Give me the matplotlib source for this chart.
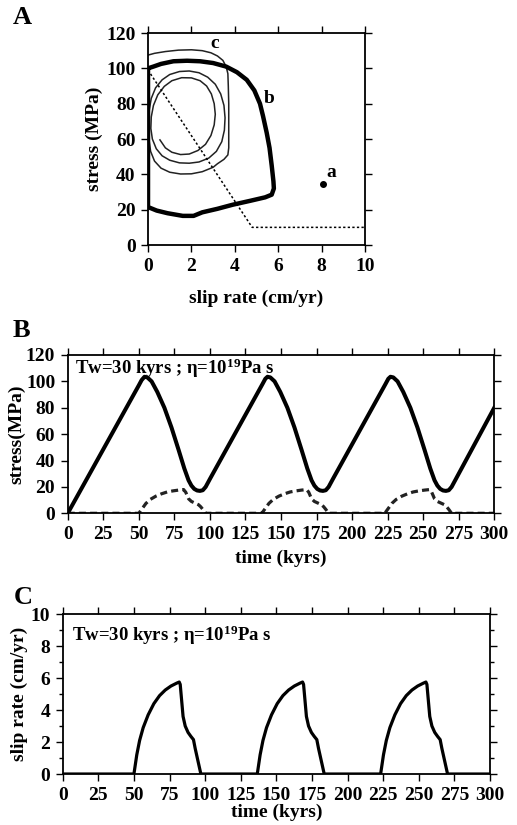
"""
Stress / slip-rate cycles: phase portrait (A), stress history (B), slip-rate history (C).
"""
import matplotlib
matplotlib.use("Agg")
import matplotlib.pyplot as plt
from matplotlib.ticker import MultipleLocator

plt.rcParams.update({
    "font.family": ["Liberation Serif", "DejaVu Serif"],
    "font.weight": "bold",
    "axes.labelweight": "bold",
    "font.size": 14,
    "mathtext.fontset": "custom",
    "mathtext.rm": "Liberation Serif:bold",
    "mathtext.bf": "Liberation Serif:bold",
    "mathtext.it": "Liberation Serif:bold",
})

# ---- panel A: phase portrait (slip rate cm/yr, stress MPa)
b_rate = [0.0, 0.0, 0.4, 0.9, 1.6, 2.1, 2.5, 3.2, 3.9, 4.7, 5.4, 5.7, 5.8, 5.78, 5.7,
          5.6, 5.47, 5.3, 5.16, 4.9, 4.55, 4.1, 3.6, 3.0, 2.4, 1.8, 1.17, 0.6, 0.25, 0.0]
b_stress = [100.0, 21.5, 19.5, 18.0, 16.5, 16.5, 18.5, 20.5, 22.8, 25.0, 27.0, 28.5, 32.0, 36.0, 45.0,
            55.0, 63.5, 73.0, 80.0, 87.5, 93.5, 97.8, 101.0, 103.0, 104.0, 104.3, 104.0, 102.5, 101.0, 100.0]

c_rate = [0.0, 0.3, 0.8, 1.4, 2.0, 2.5, 2.9, 3.2, 3.45, 3.6, 3.68, 3.7, 3.72, 3.72, 3.72, 3.68,
          3.5, 3.2, 3.0, 2.5, 2.0, 1.5, 1.0, 0.6, 0.3, 0.12, 0.04, 0.02, 0.05, 0.15, 0.35, 0.65,
          1.0, 1.45, 1.9, 2.35, 2.75, 3.1, 3.35, 3.5, 3.55, 3.52, 3.4, 3.15, 2.8, 2.35, 1.9, 1.45,
          1.0, 0.65, 0.38, 0.2, 0.13, 0.15, 0.25, 0.45, 0.75, 1.1, 1.55, 2.0, 2.4, 2.7, 2.92, 3.05,
          3.1, 3.05, 2.9, 2.65, 2.3, 1.9, 1.5, 1.1, 0.8, 0.55]
c_stress = [107.5, 108.5, 109.5, 110.3, 110.5, 110.0, 108.8, 107.0, 104.5, 101.0, 97.0, 90.0, 80.0, 65.0, 55.0, 51.0,
            48.5, 46.0, 44.0, 41.5, 40.3, 40.2, 41.2, 43.5, 47.5, 53.0, 60.0, 68.0, 76.0, 83.0, 89.0, 93.5,
            96.5, 98.2, 98.5, 97.5, 95.0, 91.0, 85.5, 79.0, 72.0, 65.0, 58.5, 53.0, 49.2, 47.0, 46.3, 46.5,
            48.0, 50.5, 54.5, 60.0, 66.0, 72.5, 79.0, 85.0, 89.8, 93.0, 94.7, 94.6, 93.0, 90.0, 85.5, 80.0,
            74.0, 68.0, 62.0, 57.0, 53.5, 51.5, 51.2, 52.5, 55.0, 59.5]

threshold_rate = [0.0, 4.8, 10.0]
threshold_stress = [99.0, 10.0, 10.0]

point_a = (8.05, 34.5)

# ---- panel B: stress history (kyrs, MPa)
stress_t = [0, 50, 52, 54, 56, 59, 63, 68, 73, 78, 82, 85, 87, 89, 91, 93, 95, 97, 100,
            137, 139, 140.5, 142.5, 145.5, 149.5, 154.5, 159.5, 164.5, 168.5, 171.5, 173.5, 175.5,
            177.5, 179.5, 181.5, 183.5, 186.5,
            223.5, 225.5, 227, 229, 232, 236, 241, 246, 251, 255, 258, 260, 262, 264, 266, 268, 270, 273,
            300]
stress_v = [0, 97, 101, 103.5, 103, 100, 92, 80, 65, 48, 34, 25, 21, 18.5, 17.3, 17, 17.5, 20, 26,
            98, 102, 103.5, 103, 100, 92, 80, 65, 48, 34, 25, 21, 18.5,
            17.3, 17, 17.5, 20, 26,
            98, 102, 103.5, 103, 100, 92, 80, 65, 48, 34, 25, 21, 18.5, 17.3, 17, 17.5, 20, 26,
            80]

visc_t = [0, 50, 52, 55, 58, 62, 66, 70, 74, 78, 81.5, 83, 85, 87, 90, 92, 93.5, 95, 97,
          136.5, 138.5, 141.5, 144.5, 148.5, 152.5, 156.5, 160.5, 164.5, 168, 169.5, 171.5, 173.5,
          176.5, 178.5, 180, 181.5, 183.5,
          223, 225, 228, 231, 235, 239, 243, 247, 251, 254.5, 256, 258, 260, 263, 265, 266.5, 268, 270,
          300]
visc_v = [0, 0, 3, 7.5, 10.5, 13, 14.8, 16.2, 17, 17.6, 18, 16, 11, 9, 7.5, 6.5, 5, 3, 0,
          0, 3, 7.5, 10.5, 13, 14.8, 16.2, 17, 17.6, 18, 16, 11, 9,
          7.5, 6.5, 5, 3, 0,
          0, 3, 7.5, 10.5, 13, 14.8, 16.2, 17, 17.6, 18, 16, 11, 9, 7.5, 6.5, 5, 3, 0,
          0]

# ---- panel C: slip-rate history (kyrs, cm/yr)
slip_t = [0, 50, 51, 52, 54, 56.5, 60, 64, 68, 72, 76, 80, 81.8, 82.5, 83.5, 84.5, 86, 88, 90, 91.8, 93, 95, 97,
          136.6, 137.6, 138.6, 140.6, 143.1, 146.6, 150.6, 154.6, 158.6, 162.6, 166.6, 168.4, 169.1, 170.1,
          171.1, 172.6, 174.6, 176.6, 178.4, 179.6, 181.6, 183.6,
          223.2, 224.2, 225.2, 227.2, 229.7, 233.2, 237.2, 241.2, 245.2, 249.2, 253.2, 255, 255.7, 256.7,
          257.7, 259.2, 261.2, 263.2, 265, 266.2, 268.2, 270.2,
          300]
slip_v = [0, 0, 0.6, 1.2, 2.1, 2.9, 3.7, 4.4, 4.9, 5.25, 5.5, 5.68, 5.75, 5.6, 4.6, 3.6, 3.0, 2.6, 2.35, 2.15, 1.6, 0.8, 0,
          0, 0.6, 1.2, 2.1, 2.9, 3.7, 4.4, 4.9, 5.25, 5.5, 5.68, 5.75, 5.6, 4.6,
          3.6, 3.0, 2.6, 2.35, 2.15, 1.6, 0.8, 0,
          0, 0.6, 1.2, 2.1, 2.9, 3.7, 4.4, 4.9, 5.25, 5.5, 5.68, 5.75, 5.6, 4.6,
          3.6, 3.0, 2.6, 2.35, 2.15, 1.6, 0.8, 0,
          0]

params_text = "Tw=30 kyrs ; η=10$^{19}$Pa s"


def style_axes(ax):
    ax.tick_params(which="both", direction="out", top=True, right=True,
                   width=1.0, labelsize=14, pad=4)
    ax.tick_params(which="major", length=5)
    ax.tick_params(which="minor", length=3)
    for spine in ax.spines.values():
        spine.set_linewidth(1.3)
    for lab in ax.get_xticklabels() + ax.get_yticklabels():
        lab.set_fontweight("bold")


fig = plt.figure(figsize=(5.17, 8.25), dpi=100)

# A
ax_a = fig.add_axes([0.2863, 0.703, 0.4197, 0.257])
ax_a.plot(c_rate, c_stress, color="#222222", lw=1.1, solid_joinstyle="round")
ax_a.plot(b_rate, b_stress, color="black", lw=3.2, solid_joinstyle="round")
ax_a.plot(threshold_rate, threshold_stress, color="black", lw=1.1, linestyle=(0, (1.5, 1.5)))
ax_a.plot([point_a[0]], [point_a[1]], "o", color="black", ms=4)
ax_a.text(point_a[0] + 0.15, point_a[1] + 1.5, "a", fontsize=14, ha="left", va="bottom")
ax_a.text(5.35, 83, "b", fontsize=14, ha="left", va="center")
ax_a.text(3.05, 109, "c", fontsize=14, ha="center", va="bottom")
ax_a.set_xlim(0, 10)
ax_a.set_ylim(0, 120)
ax_a.set_xticks(range(0, 11, 2))
ax_a.set_yticks(range(0, 121, 20))
ax_a.set_xlabel("slip rate (cm/yr)", fontsize=14, labelpad=11)
ax_a.set_ylabel("stress (MPa)", fontsize=14, labelpad=2)
style_axes(ax_a)
fig.text(0.024, 0.993, "A", fontsize=19, fontweight="bold", ha="left", va="top")

# B
ax_b = fig.add_axes([0.131, 0.3778, 0.825, 0.1919])
ax_b.plot(stress_t, stress_v, color="black", lw=2.9, solid_joinstyle="round")
ax_b.plot(visc_t, visc_v, color="#222222", lw=2.3, linestyle=(0, (2.2, 1.3)))
ax_b.set_xlim(0, 300)
ax_b.set_ylim(0, 120)
ax_b.set_xticks(range(0, 301, 25))
ax_b.set_yticks(range(0, 121, 20))
ax_b.set_xlabel("time (kyrs)", fontsize=14, labelpad=5)
ax_b.set_ylabel("stress(MPa)", fontsize=14, labelpad=0)
ax_b.text(0.017, 0.88, params_text, transform=ax_b.transAxes, fontsize=13.5, ha="left", va="baseline")
style_axes(ax_b)
fig.text(0.024, 0.613, "B", fontsize=19, fontweight="bold", ha="left", va="top")

# C
ax_c = fig.add_axes([0.1213, 0.0618, 0.8265, 0.1939])
ax_c.plot(slip_t, slip_v, color="black", lw=2.3, solid_joinstyle="round")
ax_c.set_xlim(0, 300)
ax_c.set_ylim(0, 10)
ax_c.set_xticks(range(0, 301, 25))
ax_c.set_yticks(range(0, 11, 2))
ax_c.yaxis.set_minor_locator(MultipleLocator(1))
ax_c.set_xlabel("time (kyrs)", fontsize=14, labelpad=0)
ax_c.set_ylabel("slip rate (cm/yr)", fontsize=14, labelpad=2)
ax_c.text(0.021, 0.83, params_text, transform=ax_c.transAxes, fontsize=13.5, ha="left", va="baseline")
style_axes(ax_c)
fig.text(0.026, 0.29, "C", fontsize=19, fontweight="bold", ha="left", va="top")

fig.savefig("out.png", dpi=100)
